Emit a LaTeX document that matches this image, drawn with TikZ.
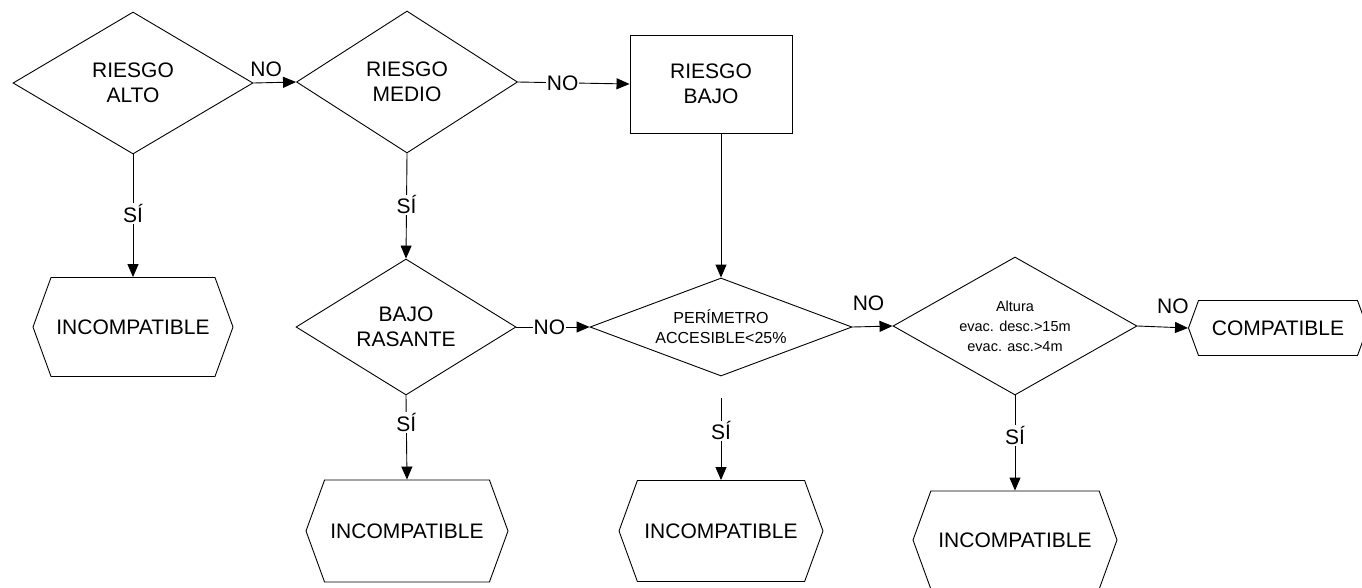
\documentclass[tikz,border=0pt]{standalone}
\usepackage{fontspec}
\setmainfont{Liberation Sans}
\usetikzlibrary{shapes.geometric,shapes.symbols,arrows.meta}

\begin{document}
\begin{tikzpicture}[draw=black, x=1pt, y=-1pt, line width=0.9pt,
  font=\fontsize{21}{25}\selectfont,
  decision/.style={draw, diamond, aspect=1.7, inner sep=0pt, align=center},
  process/.style={draw, rectangle, inner sep=0pt, align=center},
  terminal/.style={draw, signal, signal to=west and east, signal pointer angle=140, inner sep=0pt},
  flow/.style={-{Triangle[length=13pt,width=11pt]}},
  lbl/.style={fill=white, inner sep=1pt}]
\useasboundingbox (0,0) rectangle (1362,587);

\node[decision, minimum width=240pt, minimum height=142pt] (alto) at (133,83) {RIESGO\\ALTO};
\node[decision, minimum width=221pt, minimum height=142pt] (medio) at (407,82) {RIESGO\\MEDIO};
\node[process, minimum width=162pt, minimum height=98pt] (bajo) at (711,84) {RIESGO\\BAJO};

\node[decision, minimum width=220pt, minimum height=136pt] (rasante) at (406,327) {BAJO\\RASANTE};
\node[decision, aspect=2.6, minimum width=262pt, minimum height=98pt,
  font=\fontsize{16}{20}\selectfont] (peri) at (721,327) {PERÍMETRO\\ACCESIBLE<25\%};
\node[decision, minimum width=244pt, minimum height=138pt,
  font=\fontsize{14.5}{20}\selectfont] (altura) at (1015,326) {Altura\\evac. desc.>15m\\evac. asc.>4m};

\node[terminal, minimum width=200pt, minimum height=99pt] (inc1) at (133,327) {INCOMPATIBLE};
\node[terminal, minimum width=202pt, minimum height=102pt] (inc2) at (407,531) {INCOMPATIBLE};
\node[terminal, minimum width=204pt, minimum height=101pt] (inc3) at (721,531) {INCOMPATIBLE};
\node[terminal, minimum width=204pt, minimum height=98pt] (inc4) at (1015,540) {INCOMPATIBLE};
\node[terminal, minimum width=179pt, minimum height=55pt] (compat) at (1278,328) {COMPATIBLE};

\draw[flow] (alto.east) -- node[above=4pt, pos=.3, inner sep=2pt] {NO} (medio.west);
\draw[flow] (medio.east) -- node[lbl, pos=.4] {NO} (bajo.west);
\draw[flow] (alto.south) -- node[lbl, pos=.48] {SÍ} (inc1.north);
\draw[flow] (medio.south) -- node[lbl, pos=.49] {SÍ} (rasante.north);
\draw[flow] (bajo.south -| peri.north) -- (peri.north);

\draw[flow] (rasante.east) -- node[lbl, pos=.45] {NO} (peri.west);
\draw[flow] (peri.east) -- node[above=12pt, pos=.4] {NO} (altura.west);
\draw[flow] (altura.east) -- node[above=10pt, pos=.7] {NO} (compat.west);

\coordinate (perisi) at (721,398);% gap under the diamond
\draw[flow] (rasante.south) -- node[lbl, pos=.32] {SÍ} (inc2.north);
\draw[flow] (perisi) -- node[lbl, pos=.4] {SÍ} (inc3.north);
\draw[flow] (altura.south) -- node[lbl, pos=.42] {SÍ} (inc4.north);
\end{tikzpicture}
\end{document}
